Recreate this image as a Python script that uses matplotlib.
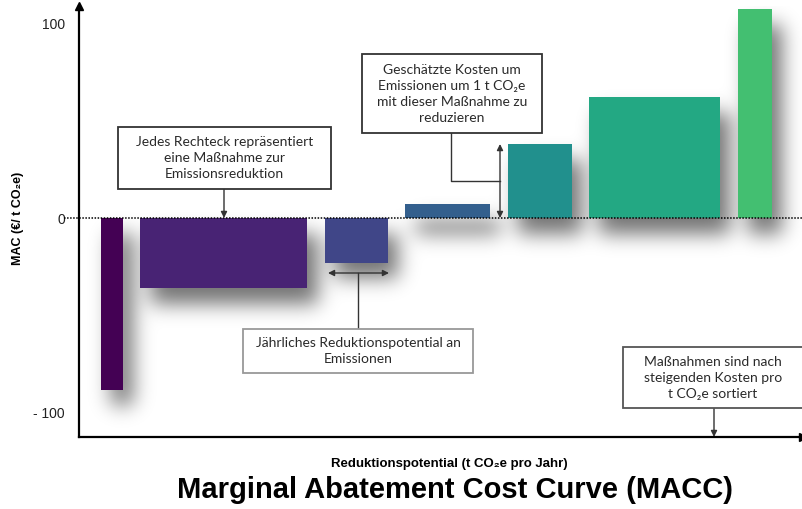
import matplotlib
matplotlib.use('Agg')
import matplotlib.pyplot as plt
import numpy as np
from matplotlib.patches import Rectangle

# Massnahmen (schematisch), sortiert nach steigenden Kosten
widths = [11, 83.5, 31.5, 42.5, 32, 65.5, 17]      # Reduktionspotential
mac = [-88, -36, -23, 7, 38, 62, 107]              # MAC (EUR / t CO2e)
colors = ['#440154', '#482374', '#404688', '#335f8d', '#21908d', '#23a883', '#43bf71']
yticks = [-100, 0, 100]
yticklabels = ['- 100', '0', '100']

start = 11
gap = 8.75
lefts = []
pos = start
for w in widths:
    lefts.append(pos)
    pos += w + gap

plt.rcParams['font.family'] = ['Liberation Sans', 'DejaVu Sans']

fig = plt.figure(figsize=(8.03, 5.09), dpi=100)
ax = fig.add_axes([79 / 803, (509 - 437) / 509, 724 / 803, 431 / 509])

xlim = (0, 362)
ylim = ((218 - 437) / 1.95, (218 - 6) / 1.95)
ax.set_xlim(*xlim)
ax.set_ylim(*ylim)

def P(px, py):
    # Pixelposition im Bild -> Datenkoordinaten
    return (px - 79) / 2.0, (218 - py) / 1.95

# weicher Schatten hinter den Balken
W, H = 724, 431
xs = np.linspace(xlim[0], xlim[1], W)
ys = np.linspace(ylim[1], ylim[0], H)
X, Y = np.meshgrid(xs, ys)
mask = np.zeros((H, W))
ox, oy = 5.0, 8.0
for l, w, v in zip(lefts, widths, mac):
    lo, hi = min(0, v), max(0, v)
    mask[(X >= l + ox) & (X <= l + w + ox) & (Y >= lo - oy) & (Y <= hi - oy)] = 1
sig = 10.0
k = np.arange(-32, 33)
g = np.exp(-k ** 2 / (2 * sig ** 2))
g /= g.sum()
blur = np.apply_along_axis(lambda r: np.convolve(r, g, mode='same'), 1, mask)
blur = np.apply_along_axis(lambda c: np.convolve(c, g, mode='same'), 0, blur)
rgba = np.zeros((H, W, 4))
rgba[..., 3] = 0.55 * blur
ax.imshow(rgba, extent=(xlim[0], xlim[1], ylim[0], ylim[1]), origin='upper',
          aspect='auto', zorder=1, interpolation='bilinear')

ax.bar(lefts, mac, width=widths, align='edge', color=colors, zorder=3)

# Nulllinie
ax.plot([P(64, 0)[0], xlim[1]], [0, 0], color='black', lw=1.1, ls=(0, (1, 1)),
        zorder=4, clip_on=False)

# Achsen mit Pfeilen
for s in ['top', 'right']:
    ax.spines[s].set_visible(False)
ax.spines['left'].set_linewidth(1.6)
ax.spines['bottom'].set_linewidth(1.6)
ax.plot(0, 1, '^', color='black', ms=6, transform=ax.transAxes, clip_on=False)
ax.plot(1, 0, '>', color='black', ms=6, transform=ax.transAxes, clip_on=False)

ax.set_xticks([])
ax.set_yticks(yticks)
ax.set_yticklabels(yticklabels, fontsize=10, color='#222222')
ax.tick_params(axis='y', length=0, pad=10)

fig.text(18 / 803, 1 - 218 / 509, 'MAC (€/ t CO₂e)', rotation=90, fontsize=9,
         fontweight='bold', ha='center', va='center')
fig.text(449 / 803, 1 - 464 / 509, 'Reduktionspotential (t CO₂e pro Jahr)',
         fontsize=9.5, fontweight='bold', ha='center', va='center')
fig.text(455 / 803, 1 - 490 / 509, 'Marginal Abatement Cost Curve (MACC)',
         fontsize=21, fontweight='bold', ha='center', va='center')

box_font = ['Lato', 'DejaVu Sans']

def box(x0, y0, x1, y1, txt, ec):
    a = P(x0, y1)
    b = P(x1, y0)
    ax.add_patch(Rectangle(a, b[0] - a[0], b[1] - a[1], facecolor='white',
                           edgecolor=ec, lw=1.3, zorder=6, clip_on=False))
    c = P((x0 + x1) / 2, (y0 + y1) / 2)
    ax.text(c[0], c[1], txt, ha='center', va='center', fontsize=10,
            family=box_font, color='#2a2a2a', linespacing=1.4, zorder=7,
            clip_on=False)

box(118, 127, 331, 189, 'Jedes Rechteck repräsentiert\neine Maßnahme zur\nEmissionsreduktion', '#333333')
box(362, 54, 542, 133, 'Geschätzte Kosten um\nEmissionen um 1 t CO₂e\nmit dieser Maßnahme zu\nreduzieren', '#333333')
box(243, 329, 473, 373, 'Jährliches Reduktionspotential an\nEmissionen', '#999999')
box(623, 347, 803, 408, 'Maßnahmen sind nach\nsteigenden Kosten pro\nt CO₂e sortiert', '#555555')

lc = '#333333'
ap1 = dict(arrowstyle='-|>', color=lc, lw=1, mutation_scale=9, shrinkA=0, shrinkB=0)
ap2 = dict(arrowstyle='<|-|>', color=lc, lw=1, mutation_scale=9, shrinkA=0, shrinkB=0)
ax.annotate('', xy=P(224, 218), xytext=P(224, 189), arrowprops=ap1, zorder=5)
ax.annotate('', xy=P(714, 437), xytext=P(714, 408), arrowprops=ap1, zorder=5,
            annotation_clip=False)
ax.annotate('', xy=P(500, 144), xytext=P(500, 218), arrowprops=ap2, zorder=5)
ax.annotate('', xy=P(328, 273), xytext=P(389, 273), arrowprops=ap2, zorder=5)
xa, ya = zip(P(451, 133), P(451, 181), P(500, 181))
ax.plot(xa, ya, color=lc, lw=1, zorder=5, clip_on=False)
xa, ya = zip(P(358, 273), P(358, 329))
ax.plot(xa, ya, color=lc, lw=1, zorder=5, clip_on=False)

fig.savefig('out.png', dpi=100, facecolor='white')
